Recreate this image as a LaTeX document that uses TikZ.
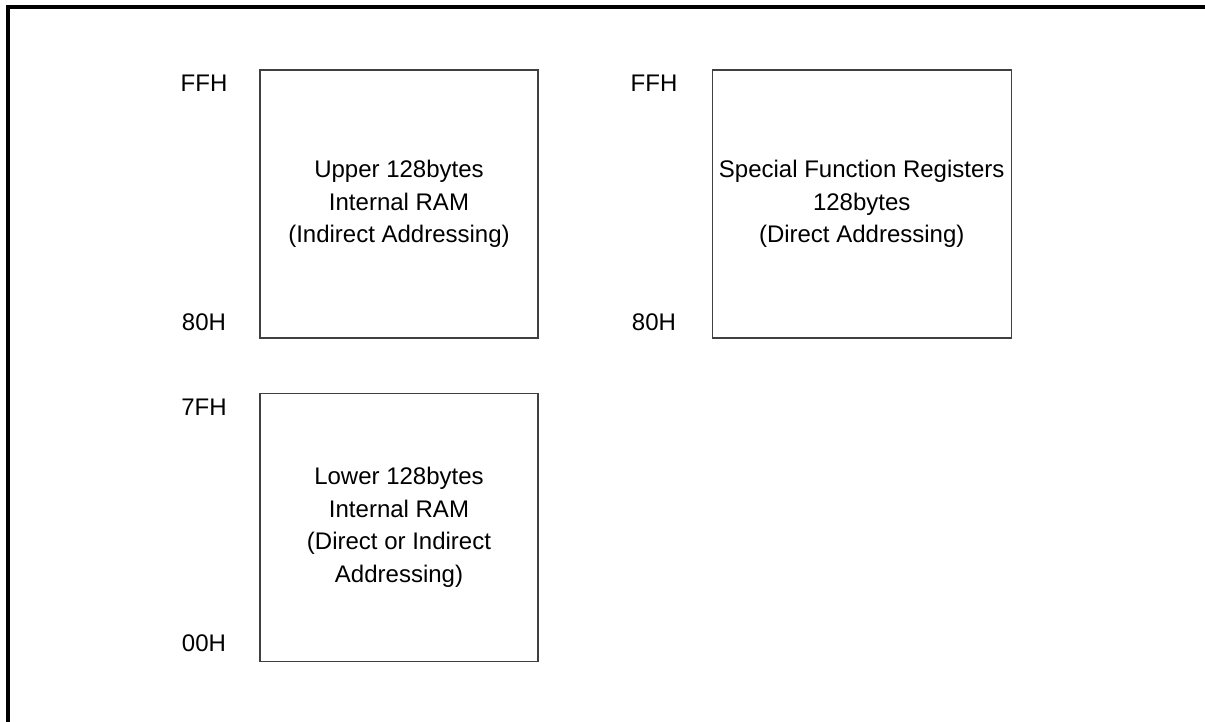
\documentclass[tikz,border=0pt]{standalone}
\usepackage{fontspec}
\setmainfont{Liberation Sans}
\usetikzlibrary{positioning}

\begin{document}
\begin{tikzpicture}[x=0.5pt,y=-0.5pt,
        memblock/.style={draw=black!75,line width=0.6pt,minimum width=139pt,minimum height=134pt,align=center,inner sep=1pt,font=\fontsize{12}{16.25}\selectfont},
        addr/.style={font=\fontsize{12}{14}\selectfont,inner sep=0pt}]
        \useasboundingbox (0,0) rectangle (1205,722);
        \draw[line width=1.6pt] (8,740) -- (8,7) -- (1220,7);
        \node[memblock] (upper) at (399,204) {Upper 128bytes\\Internal RAM\\(Indirect Addressing)};
        \node[memblock,minimum width=149.5pt,right=86.5pt of upper] (sfr) {Special Function Registers\\128bytes\\(Direct Addressing)};
        \node[memblock,below=27pt of upper] (lower) {Lower 128bytes\\Internal RAM\\(Direct or Indirect\\Addressing)};
        \node[addr] (upperff) at (204,83) {FFH};
        \node[addr] (upper80) at (204,322) {80H};
        \node[addr] (sfrff) at (654,83) {FFH};
        \node[addr] (sfr80) at (654,322) {80H};
        \node[addr] (lower7f) at (204,407) {7FH};
        \node[addr] (lower00) at (204,643) {00H};
    \end{tikzpicture}
\end{document}
